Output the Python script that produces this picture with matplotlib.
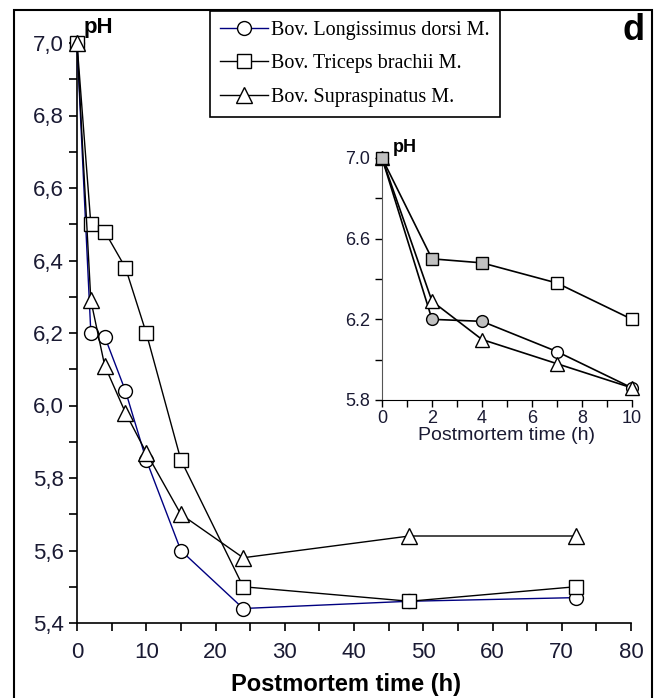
import matplotlib
matplotlib.use('Agg')
import matplotlib.pyplot as plt
from matplotlib.patches import Rectangle
from matplotlib.ticker import MultipleLocator, FixedLocator

# Data
time_main = [0, 2, 4, 7, 10, 15, 24, 48, 72]
ph_longissimus = [7.0, 6.2, 6.19, 6.04, 5.85, 5.60, 5.44, 5.46, 5.47]
ph_triceps = [7.0, 6.5, 6.48, 6.38, 6.2, 5.85, 5.50, 5.46, 5.50]
ph_supra = [7.0, 6.29, 6.11, 5.98, 5.87, 5.70, 5.58, 5.64, 5.64]

time_inset = [0, 2, 4, 7, 10]
ph_longissimus_in = [7.0, 6.2, 6.19, 6.04, 5.86]
ph_triceps_in = [7.0, 6.5, 6.48, 6.38, 6.2]
ph_supra_in = [7.0, 6.29, 6.1, 5.98, 5.86]

labels = ['Bov. Longissimus dorsi M.', 'Bov. Triceps brachii M.', 'Bov. Supraspinatus M.']

sans = ['Liberation Sans', 'DejaVu Sans']
serif = ['Liberation Serif', 'DejaVu Serif']
navy = '#000080'
lblcol = '#1a1a33'

W, H = 660, 698
fig = plt.figure(figsize=(W / 100, H / 100), dpi=100)

def fx(px):
    return px / W

def fy(py):
    return 1 - py / H

# outer frame (open at the bottom)
fig.add_artist(Rectangle((fx(14), -0.05), fx(652) - fx(14), fy(10) + 0.05,
                         transform=fig.transFigure, fill=False, lw=1.5, ec='black'))

# ---- main axes
ax = fig.add_axes([fx(77), fy(623), fx(631) - fx(77), fy(43) - fy(623)])
ax.plot(time_main, ph_longissimus, color=navy, lw=1.0, marker='o', ms=10,
        mfc='white', mec='black', mew=1.0, clip_on=False, zorder=3)
ax.plot(time_main, ph_triceps, color='black', lw=1.0, marker='s', ms=10.5,
        mfc='white', mec='black', mew=1.0, clip_on=False, zorder=3)
ax.plot(time_main, ph_supra, color='black', lw=1.0, marker='^', ms=11,
        mfc='white', mec='black', mew=1.0, clip_on=False, zorder=3)
ax.set_xlim(0, 80)
ax.set_ylim(5.4, 7.0)
for s in ['top', 'right']:
    ax.spines[s].set_visible(False)
for s in ['left', 'bottom']:
    ax.spines[s].set_linewidth(1.2)
ax.xaxis.set_major_locator(MultipleLocator(10))
ax.xaxis.set_minor_locator(MultipleLocator(5))
ax.yaxis.set_major_locator(MultipleLocator(0.2))
ax.yaxis.set_minor_locator(MultipleLocator(0.1))
ax.tick_params(which='both', direction='out', length=6, width=1.2, color='black')
ax.tick_params(axis='x', pad=8)
ax.set_yticks([5.4, 5.6, 5.8, 6.0, 6.2, 6.4, 6.6, 6.8, 7.0])
ax.set_yticklabels(['5,4', '5,6', '5,8', '6,0', '6,2', '6,4', '6,6', '6,8', '7,0'])
for t in ax.get_xticklabels() + ax.get_yticklabels():
    t.set_fontfamily(sans)
    t.set_fontsize(16)
    t.set_color(lblcol)
ax.set_facecolor('none')

fig.text(fx(346), fy(685), 'Postmortem time (h)', ha='center', va='center',
         fontsize=17, fontweight='bold', family=sans)
fig.text(fx(84), fy(27), 'pH', ha='left', va='center', fontsize=16,
         fontweight='bold', family=sans)
fig.text(fx(645), fy(31), 'd', ha='right', va='center', fontsize=26,
         fontweight='bold', family=sans)

# ---- legend
leg = ax.legend(labels, loc='upper left', bbox_to_anchor=(fx(210), fy(11)),
                bbox_transform=fig.transFigure, frameon=True, fancybox=False,
                edgecolor='black', framealpha=1, borderaxespad=0,
                prop={'family': serif, 'size': 14.5}, handlelength=2.4,
                handletextpad=0.15, labelspacing=0.7, borderpad=0.5)
leg.get_frame().set_linewidth(1.2)

# ---- inset
axi = fig.add_axes([fx(382), fy(400), fx(632) - fx(382), fy(158) - fy(400)])
gray = '#c0c0c0'
fc_circ = [gray, gray, gray, 'white', 'white']
fc_sq = [gray, gray, gray, 'white', 'white']
axi.plot(time_inset, ph_longissimus_in, color='black', lw=1.2, zorder=2, clip_on=False)
axi.plot(time_inset, ph_triceps_in, color='black', lw=1.2, zorder=2, clip_on=False)
axi.plot(time_inset, ph_supra_in, color='black', lw=1.2, zorder=2, clip_on=False)
for x, y, c in zip(time_inset, ph_longissimus_in, fc_circ):
    axi.plot(x, y, marker='o', ms=8.5, mfc=c, mec='black', mew=1.0, clip_on=False, zorder=3)
for x, y in zip(time_inset, ph_supra_in):
    axi.plot(x, y, marker='^', ms=9.5, mfc='white', mec='black', mew=1.0, clip_on=False, zorder=3)
for x, y, c in zip(time_inset, ph_triceps_in, fc_sq):
    axi.plot(x, y, marker='s', ms=9, mfc=c, mec='black', mew=1.0, clip_on=False, zorder=4)
axi.set_xlim(0, 10)
axi.set_ylim(5.8, 7.0)
for s in ['top', 'right']:
    axi.spines[s].set_visible(False)
axi.spines['left'].set_color('#555555')
axi.spines['bottom'].set_color('black')
axi.xaxis.set_major_locator(MultipleLocator(2))
axi.xaxis.set_minor_locator(MultipleLocator(1))
axi.yaxis.set_major_locator(FixedLocator([5.8, 6.2, 6.6, 7.0]))
axi.yaxis.set_minor_locator(FixedLocator([6.0, 6.4, 6.8]))
axi.set_yticklabels(['5.8', '6.2', '6.6', '7.0'])
axi.tick_params(which='both', direction='out', length=5, width=1.0)
axi.tick_params(axis='x', pad=2)
for t in axi.get_xticklabels() + axi.get_yticklabels():
    t.set_fontfamily(sans)
    t.set_fontsize(13)
    t.set_color(lblcol)
axi.set_xlabel('Postmortem time (h)', fontsize=14, family=sans, color=lblcol, labelpad=0)
axi.set_facecolor('none')
fig.text(fx(393), fy(147), 'pH', ha='left', va='center', fontsize=13, family=sans,
         fontweight='bold')

fig.savefig('out.png', dpi=100)
